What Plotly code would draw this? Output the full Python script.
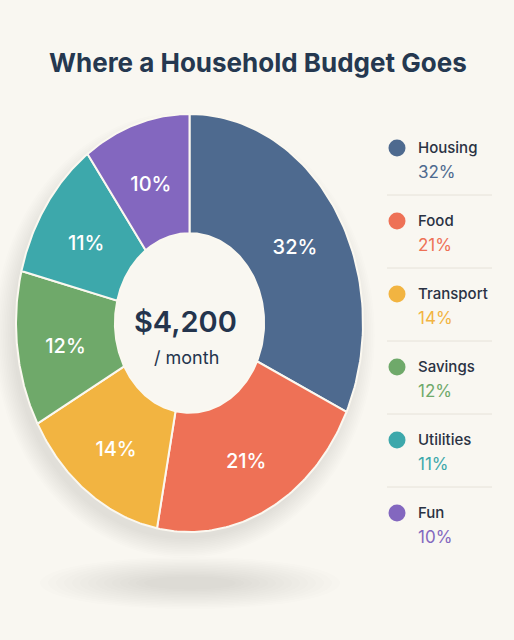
import numpy as np
import plotly.graph_objects as go

# ---- data ----
categories = ["Housing", "Food", "Transport", "Savings", "Utilities", "Fun"]
shares = [32, 21, 14, 12, 11, 10]
colors = ["#4E6A8F", "#EE7156", "#F2B441", "#6FA96A", "#3DA8AB", "#8367BF"]
title_text = "Where a Household Budget Goes"
center_value = "$4,200"
center_sub = "/ month"

W, H = 514, 640
BG = "#F9F7F1"
CX, CY = 189.5, 323.0      # pixel centre of the ellipse
RX, RY = 173.5, 209.0      # pixel semi-axes
HOLE = 0.43
LABEL_R = 0.72
LABEL_DY = -0.03


def px(x):
    return x / W


def py(y):
    return 1 - y / H


fig = go.Figure()

# hole background (covers shadow shapes)
th = np.linspace(0, 2 * np.pi, 200)
fig.add_trace(go.Scatter(x=HOLE * np.sin(th), y=HOLE * np.cos(th), mode="lines",
                         fill="toself", fillcolor=BG, line=dict(width=0, color=BG),
                         hoverinfo="skip", showlegend=False))

# slices as annular sectors computed from the shares
total = sum(shares)
cum = 0.0
for cat, val, col in zip(categories, shares, colors):
    t0 = cum / total * 2 * np.pi
    t1 = (cum + val) / total * 2 * np.pi
    t = np.linspace(t0, t1, 80)
    xs = np.concatenate([np.sin(t), HOLE * np.sin(t[::-1]), [np.sin(t0)]])
    ys = np.concatenate([np.cos(t), HOLE * np.cos(t[::-1]), [np.cos(t0)]])
    fig.add_trace(go.Scatter(x=xs, y=ys, mode="lines", fill="toself",
                             fillcolor=col, line=dict(color="#FBF8F0", width=2),
                             hoverinfo="text", text=f"{cat}: {val}%",
                             showlegend=False))
    tm = (t0 + t1) / 2
    fig.add_trace(go.Scatter(x=[LABEL_R * np.sin(tm)], y=[LABEL_R * np.cos(tm) + LABEL_DY],
                             mode="text", text=[f"{val}%"],
                             textfont=dict(family="Inter", size=20, color="white", weight=500),
                             hoverinfo="skip", showlegend=False))
    cum += val

shapes = []
# soft shadow around pie (offset to lower-left)
for i in range(12):
    g = i * 1.7
    ox, oy = -3, 7
    shapes.append(dict(type="circle", xref="paper", yref="paper", layer="below",
                       x0=px(CX + ox - RX - g), x1=px(CX + ox + RX + g - 4),
                       y0=py(CY + oy + RY + g), y1=py(CY + oy - RY - g + 10),
                       fillcolor="rgba(70,65,55,0.013)", line=dict(width=0)))
# ground shadow
for i in range(14):
    sx = 150 - i * 8
    sy = 26 - i * 1.5
    shapes.append(dict(type="circle", xref="paper", yref="paper", layer="below",
                       x0=px(190 - sx), x1=px(190 + sx),
                       y0=py(583 + sy), y1=py(583 - sy),
                       fillcolor="rgba(90,80,60,0.011)", line=dict(width=0)))

annotations = [
    dict(text=title_text, x=px(258), y=py(62), xref="paper", yref="paper",
         showarrow=False, font=dict(family="Inter", size=26, color="#253850", weight=700),
         xanchor="center", yanchor="middle"),
    dict(text=center_value, x=px(185), y=py(321), xref="paper", yref="paper",
         showarrow=False, font=dict(family="Inter", size=29, color="#24344D", weight=600),
         xanchor="center", yanchor="middle"),
    dict(text=center_sub, x=px(186), y=py(357), xref="paper", yref="paper",
         showarrow=False, font=dict(family="Inter", size=18, color="#24344D"),
         xanchor="center", yanchor="middle"),
]

row0, step = 148, 73
for i, (cat, val, col) in enumerate(zip(categories, shares, colors)):
    yc = row0 + i * step
    shapes.append(dict(type="circle", xref="paper", yref="paper",
                       x0=px(397 - 8.5), x1=px(397 + 8.5),
                       y0=py(yc + 8.5), y1=py(yc - 8.5),
                       fillcolor=col, line=dict(width=0)))
    annotations.append(dict(text=cat, x=px(416), y=py(yc - 1), xref="paper", yref="paper",
                            showarrow=False, xanchor="left", yanchor="middle",
                            font=dict(family="Inter", size=15, color="#2A3243", weight=500)))
    annotations.append(dict(text=f"{val}%", x=px(416), y=py(yc + 24), xref="paper",
                            yref="paper", showarrow=False, xanchor="left", yanchor="middle",
                            font=dict(family="Inter", size=17, color=col)))
    if i < len(categories) - 1:
        ys = yc + 47
        shapes.append(dict(type="line", xref="paper", yref="paper",
                           x0=px(387), x1=px(492), y0=py(ys), y1=py(ys),
                           line=dict(color="#E6E2D9", width=1)))

fig.update_layout(
    width=W, height=H, margin=dict(l=0, r=0, t=0, b=0),
    paper_bgcolor=BG, plot_bgcolor=BG,
    xaxis=dict(range=[-CX / RX, (W - CX) / RX], visible=False, fixedrange=True),
    yaxis=dict(range=[-(H - CY) / RY, CY / RY], visible=False, fixedrange=True),
    shapes=shapes, annotations=annotations, showlegend=False,
)

fig.write_html("out.html", config={"displayModeBar": False},
               post_script="document.body.style.margin='0';document.body.style.overflow='hidden';"
                           "document.body.style.background='#F9F7F1';")
